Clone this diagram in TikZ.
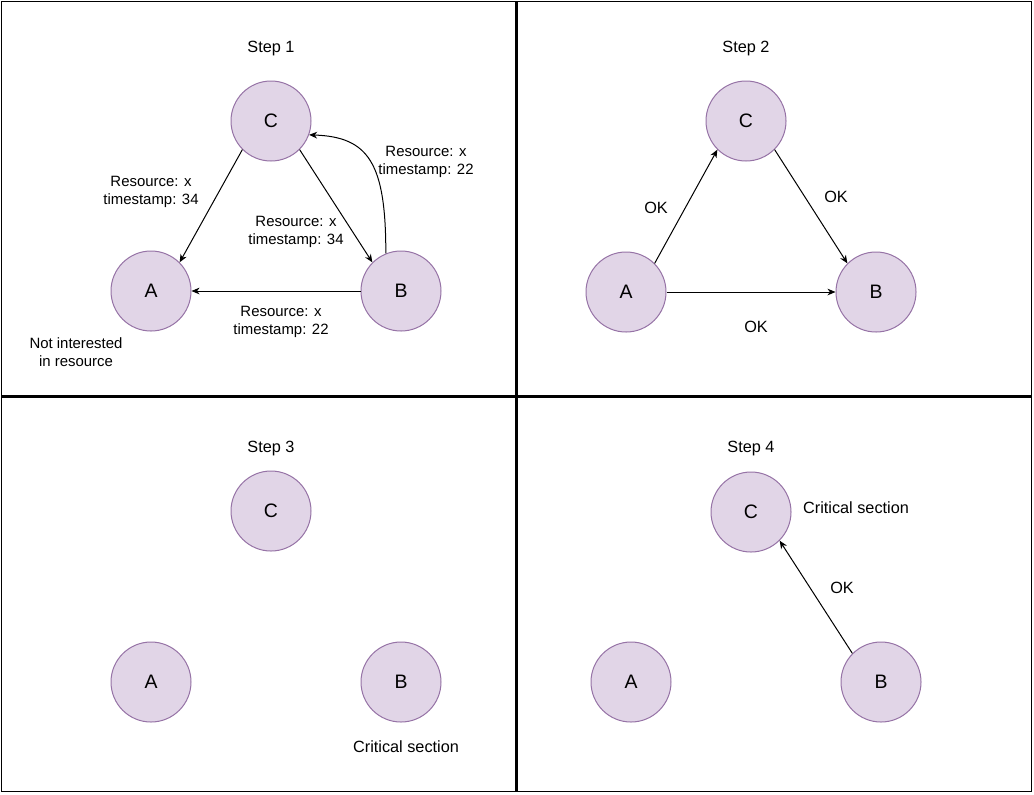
\documentclass[tikz,border=0pt]{standalone}
\usepackage{fontspec}
\setmainfont{Liberation Sans}
\usetikzlibrary{arrows.meta}
\definecolor{nodefill}{HTML}{E1D5E7}
\definecolor{nodedraw}{HTML}{9673A6}
\begin{document}
\begin{tikzpicture}[x=0.75pt,y=-0.75pt,
  proc/.style={circle, draw=nodedraw, fill=nodefill, line width=0.75pt,
    minimum size=60pt, inner sep=0pt, font=\fontsize{14.6}{16}\selectfont},
  steptitle/.style={font=\fontsize{12.2}{14}\selectfont},
  note/.style={font=\fontsize{12.2}{14}\selectfont, align=center},
  lbl/.style={font=\fontsize{11.2}{13.5}\selectfont, align=center},
  msg/.style={-{Stealth[length=6pt,width=5pt,inset=1.8pt]}, line width=0.75pt},
  frame/.style={line width=0.8pt},
  divider/.style={line width=2.25pt}
]
\useasboundingbox (0,0) rectangle (1034,794);
\fill[white] (0,0) rectangle (1034,794);

% frame and dividers
\draw[frame] (1.5,1.5) rectangle (1031.5,791.5);
\draw[divider] (516.3,1.5) -- (516.3,791.5);
\draw[divider] (1.5,396.3) -- (1031.5,396.3);

% ---------- Step 1 ----------
\node[steptitle] (t1) at (271,48.5) {Step 1};
\node[proc] (C1) at (271,121) {C};
\node[proc] (A1) at (151,291) {A};
\node[proc] (B1) at (401,291) {B};
\draw[msg] (C1.-135) -- (A1.45);
\draw[msg] (C1.-45) -- (B1.135);
\draw[msg] (B1.west) -- (A1.east);
\draw[msg] (B1.112) .. controls +(0,-90) and +(60,2) .. (C1.-20);
\node[lbl] (l1a) at (151,192) {Resource: x\\timestamp: 34};
\node[lbl] (l1b) at (296,232) {Resource: x\\timestamp: 34};
\node[lbl] (l1c) at (426,162) {Resource: x\\timestamp: 22};
\node[lbl] (l1d) at (281,322) {Resource: x\\timestamp: 22};
\node[lbl] (l1e) at (76,352) {Not interested\\in resource};

% ---------- Step 2 ----------
\node[steptitle] (t2) at (746,48.5) {Step 2};
\node[proc] (C2) at (746,121) {C};
\node[proc] (A2) at (626,292) {A};
\node[proc] (B2) at (876,292) {B};
\draw[msg] (A2.45) -- (C2.-135);
\draw[msg] (C2.-45) -- (B2.135);
\draw[msg] (A2.east) -- (B2.west);
\node[note] (ok2a) at (656,208) {OK};
\node[note] (ok2b) at (836,197) {OK};
\node[note] (ok2c) at (756,327) {OK};

% ---------- Step 3 ----------
\node[steptitle] (t3) at (271,448.5) {Step 3};
\node[proc] (C3) at (271,511) {C};
\node[proc] (A3) at (151,682) {A};
\node[proc] (B3) at (401,682) {B};
\node[note] (cs3) at (406,747) {Critical section};

% ---------- Step 4 ----------
\node[steptitle] (t4) at (751,448.5) {Step 4};
\node[proc] (C4) at (751,512) {C};
\node[proc] (A4) at (631,682) {A};
\node[proc] (B4) at (881,682) {B};
\draw[msg] (B4.135) -- (C4.-45);
\node[note] (ok4) at (842,588) {OK};
\node[note] (cs4) at (856,508) {Critical section};
\end{tikzpicture}
\end{document}
